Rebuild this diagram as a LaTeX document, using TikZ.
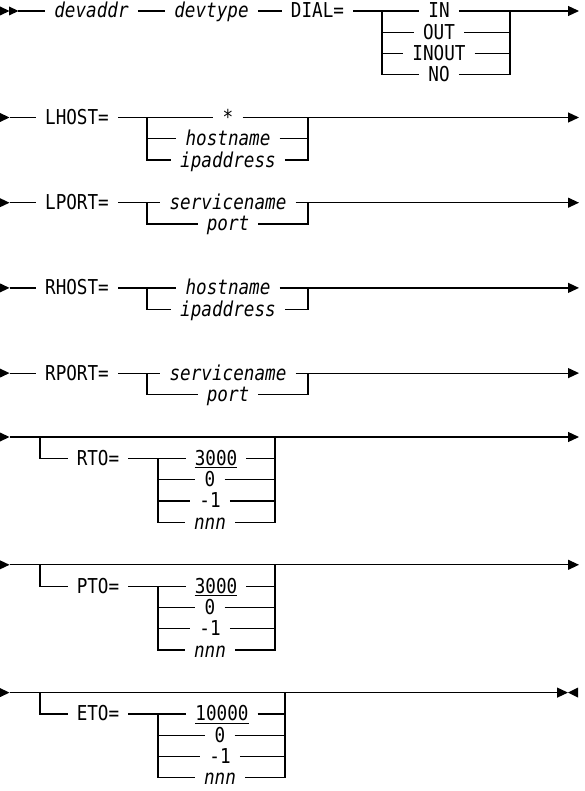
\documentclass[tikz,border=0pt]{standalone}
\usepackage{fontspec}
\usetikzlibrary{arrows.meta}
\newfontfamily\railfont{DejaVu Sans Mono}[FakeStretch=0.86]
\newcommand{\railsize}{\fontsize{20.5}{24}\selectfont}
\newcommand{\headR}[1]{\fill #1 -- ++(0,-4.5) -- ++(9.5,4.5) -- ++(-9.5,4.5) -- cycle;}
\tikzset{
  rail/.style={line width=1.2pt},
  railend/.style={-{Triangle[length=11pt,width=10pt]}},
  kw/.style={inner xsep=9pt,inner ysep=0pt,text height=14pt,text depth=0pt},
  var/.style={kw,font=\railfont\railsize\itshape}
}

\begin{document}
\begin{tikzpicture}[x=1pt,y=-1pt,font=\railfont\railsize]
    \useasboundingbox (0,0) rectangle (584,791);
    % first line: devaddr devtype DIAL=
    \headR{(0,11)} \headR{(9,11)}
    \coordinate (top-s) at (18,11);
    \node[var] (devaddr) at (91.5,11) {devaddr};
    \node[var] (devtype) at (211.5,11) {devtype};
    \node[kw] (dial) at (317.5,11) {DIAL=};
    \coordinate (dial-a) at (382,11);
    \coordinate (dial-b) at (510,11);
    \coordinate (dial-e) at (579,11);
    \node[kw] (dial-1) at (439,11) {IN};
    \node[kw] (dial-2) at (439,32.3) {OUT};
    \node[kw] (dial-3) at (439,53.6) {INOUT};
    \node[kw] (dial-4) at (439,74.9) {NO};
    \draw[rail] (top-s) -- (devaddr) -- (devtype) -- (dial) -- (dial-a)
      -- (dial-1) -- (dial-b);
    \draw[rail,railend] (dial-b) -- (dial-e);
    \draw[rail] (dial-a) |- (dial-4) -| (dial-b);
    \foreach \k in {2,3}
      \draw[rail] (dial-a |- dial-\k) -- (dial-\k) -- (dial-b |- dial-\k);
    % required keywords
    \foreach \nm/\y/\kw in {lhost/117.5/LHOST=,lport/202.7/LPORT=,
        rhost/287.9/RHOST=,rport/373.1/RPORT=}{
      \headR{(0,\y)}
      \coordinate (\nm-s) at (9.5,\y);
      \node[kw] (\nm) at (77,\y) {\kw};
      \coordinate (\nm-a) at (147,\y);
      \coordinate (\nm-b) at (308,\y);
      \coordinate (\nm-e) at (579,\y);
    }
    \node[kw]  (lhost-1) at (228,117.5) {*};
    \node[var] (lhost-2) at (228,138.8) {hostname};
    \node[var] (lhost-3) at (228,160.1) {ipaddress};
    \node[var] (lport-1) at (228,202.7) {servicename};
    \node[var] (lport-2) at (228,224) {port};
    \node[var] (rhost-1) at (228,287.9) {hostname};
    \node[var] (rhost-2) at (228,309.2) {ipaddress};
    \node[var] (rport-1) at (228,373.1) {servicename};
    \node[var] (rport-2) at (228,394.4) {port};
    \foreach \nm/\last in {lhost/3,lport/2,rhost/2,rport/2}{
      \draw[rail] (\nm-s) -- (\nm) -- (\nm-a) -- (\nm-1) -- (\nm-b);
      \draw[rail,railend] (\nm-b) -- (\nm-e);
      \draw[rail] (\nm-a) |- (\nm-\last) -| (\nm-b);
    }
    \draw[rail] (lhost-a |- lhost-2) -- (lhost-2) -- (lhost-b |- lhost-2);
    % optional timeouts
    \foreach \nm/\y/\kw/\dv/\ca/\cb/\jr/\ex in {rto/437/RTO=/3000/216/210/275/579,
        pto/564.8/PTO=/3000/216/210/275/579,eto/692.6/ETO=/10000/222/220/285/568}{
      \headR{(0,\y)}
      \coordinate (\nm-s) at (9.5,\y);
      \coordinate (\nm-b) at (40,\y);
      \coordinate (\nm-c) at (\jr,\y);
      \coordinate (\nm-e) at (\ex,\y);
      \node[kw] (\nm-kw) at (98,{\y+21.3}) {\kw};
      \coordinate (\nm-j) at (158,{\y+21.3});
      \node[kw] (\nm-d) at (\ca,{\y+21.3}) {\dv};
      \node[kw] (\nm-z) at (\cb,{\y+42.6}) {0};
      \node[kw] (\nm-m) at (\cb,{\y+63.9}) {-1};
      \node[var] (\nm-n) at (\cb,{\y+85.2}) {nnn};
      \draw[rail,railend] (\nm-s) -- (\nm-e);
      \draw[rail] (\nm-b) |- (\nm-kw) -- (\nm-j) -- (\nm-d) -| (\nm-c);
      \draw[rail] (\nm-j) |- (\nm-n) -| (\nm-c |- \nm-d);
      \foreach \k in {z,m}
        \draw[rail] (\nm-j |- \nm-\k) -- (\nm-\k) -- (\nm-c |- \nm-\k);
      \draw[rail] ([xshift=9pt,yshift=-2pt]\nm-d.south west)
        -- ([xshift=-9pt,yshift=-2pt]\nm-d.south east);
    }
    \fill (578,687.6) -- (568,692.6) -- (578,697.6) -- cycle;
\end{tikzpicture}
\end{document}
